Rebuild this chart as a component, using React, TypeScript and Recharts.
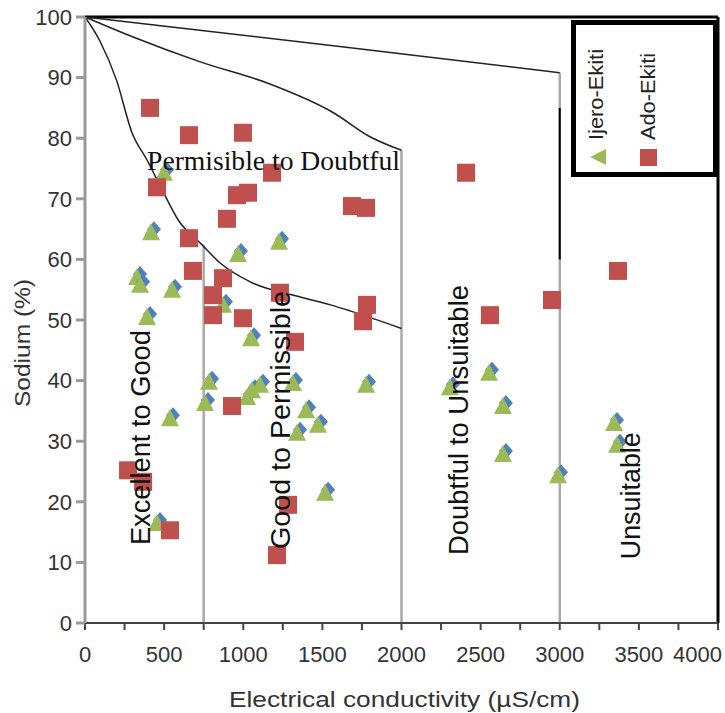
import React from 'react';
import { ComposedChart, Scatter, Line, XAxis, YAxis, ReferenceLine, ReferenceDot, Legend } from 'recharts';

// Ijero-Ekiti samples
const ijeroEC = [499, 417, 329, 348, 550, 392, 967, 1226, 872, 455, 537, 784, 758, 1049, 1024, 1055, 1106, 1314, 1397, 1340, 1472, 1517, 1776, 2553, 2306, 2641, 2641, 2989, 3343, 3362];
const ijeroNa = [74.3, 64.5, 57.1, 55.8, 55.0, 50.5, 60.9, 62.9, 52.5, 16.5, 33.8, 39.8, 36.3, 47.0, 37.3, 38.4, 39.3, 39.6, 35.1, 31.4, 32.7, 21.5, 39.3, 41.3, 38.9, 35.8, 27.9, 24.4, 33.0, 29.4];

// Ado-Ekiti samples
const adoEC = [411, 657, 998, 1182, 455, 960, 1030, 897, 657, 682, 872, 809, 809, 998, 1232, 1687, 1776, 2408, 1782, 1757, 2559, 2951, 3368, 929, 1327, 272, 367, 537, 1283, 1213];
const adoNa = [85.0, 80.5, 80.9, 74.3, 71.9, 70.6, 71.0, 66.7, 63.5, 58.1, 56.9, 54.1, 50.8, 50.3, 54.5, 68.8, 68.5, 74.3, 52.5, 49.8, 50.8, 53.3, 58.1, 35.8, 46.4, 25.2, 23.3, 15.3, 19.5, 11.2];

// Wilcox class boundaries
const lowerEC = [0, 95, 200, 297, 392, 487, 589, 740, 854, 1044, 1361, 1551, 1675, 2000];
const lowerNa = [100, 96.0, 89.5, 80.9, 76.4, 71.5, 66.5, 62.4, 59.4, 56.3, 53.8, 52.5, 51.5, 48.6];
const middleEC = [0, 304, 728, 1152, 1570, 1804, 2000];
const middleNa = [100, 96.7, 92.6, 89.1, 84.2, 80.2, 78];
const upperEC = [0, 1650, 3000];
const upperNa = [100, 95, 90.8];

const xTicks = [0, 250, 500, 750, 1000, 1250, 1500, 1750, 2000, 2250, 2500, 2750, 3000, 3250, 3500, 3750, 4000];
const yTicks = [0, 10, 20, 30, 40, 50, 60, 70, 80, 90, 100];

const zip = (xs: number[], ys: number[]) => xs.map((ec, i) => ({ ec, na: ys[i] }));

const ijero = zip(ijeroEC, ijeroNa);
const ado = zip(adoEC, adoNa);
const lower = zip(lowerEC, lowerNa);
const middle = zip(middleEC, middleNa);
const upper = zip(upperEC, upperNa);

const SANS = 'Liberation Sans, Arial, sans-serif';
const SERIF = 'Liberation Serif, Times New Roman, serif';
const GREEN = '#9bbb59';
const BLUE = '#4f81bd';
const RED = '#c0504d';

const Triangle = (p: any) => {
  const { cx, cy } = p;
  return (
    <g>
      <path d={`M${cx + 3},${cy - 11} L${cx + 10},${cy - 3} L${cx + 3},${cy + 5} L${cx - 4},${cy - 3} Z`} fill={BLUE} />
      <path d={`M${cx},${cy - 9} L${cx + 9},${cy + 8} L${cx - 9},${cy + 8} Z`} fill={GREEN} />
    </g>
  );
};

const Square = (p: any) => <rect x={p.cx - 9} y={p.cy - 9} width={18} height={18} fill={RED} />;

const XTick = (p: any) => {
  const v = p.payload.value;
  if (v % 500 !== 0) return null;
  const last = v === 4000;
  return (
    <text x={last ? p.x + 4 : p.x} y={p.y} dy="0.71em" textAnchor={last ? 'end' : 'middle'} fontSize={22} fill="#333" fontFamily={SANS}>
      {v}
    </text>
  );
};

const vText = (text: string, len: number) => (p: any) => (
  <text
    x={p.cx}
    y={p.cy}
    transform={`rotate(-90 ${p.cx} ${p.cy})`}
    textAnchor="middle"
    fontSize={27}
    fontFamily={SANS}
    fill="#111"
    textLength={len}
    lengthAdjust="spacingAndGlyphs"
  >
    {text}
  </text>
);

const hText = (text: string, len: number) => (p: any) => (
  <text x={p.cx} y={p.cy} fontSize={27} fontFamily={SERIF} fill="#111" textLength={len} lengthAdjust="spacingAndGlyphs">
    {text}
  </text>
);

const LegendBox = () => (
  <div style={{ width: 147, height: 157, boxSizing: 'border-box', border: '5px solid #000', background: '#fff' }}>
    <svg width={137} height={147} style={{ display: 'block' }}>
      <path d="M14,132 L30,124 L30,140 Z" fill={GREEN} />
      <text x={27} y={115} transform="rotate(-90 27 115)" fontSize={21} fontFamily={SANS} fill="#222" textLength={91} lengthAdjust="spacingAndGlyphs">
        Ijero-Ekiti
      </text>
      <rect x={64} y={124} width={17} height={17} fill={RED} />
      <text x={79} y={115} transform="rotate(-90 79 115)" fontSize={21} fontFamily={SANS} fill="#222" textLength={87} lengthAdjust="spacingAndGlyphs">
        Ado-Ekiti
      </text>
    </svg>
  </div>
);

const XTitle = (p: any) => {
  const vb = p.viewBox;
  return (
    <text x={vb.x + vb.width / 2 + 3} y={vb.y + 84} textAnchor="middle" fontSize={22} fontFamily={SANS} fill="#333" textLength={351} lengthAdjust="spacingAndGlyphs">
      Electrical conductivity (µS/cm)
    </text>
  );
};

const YTitle = () => (
  <text x={30} y={343} transform="rotate(-90 30 343)" textAnchor="middle" fontSize={22} fontFamily={SANS} fill="#333" textLength={128} lengthAdjust="spacingAndGlyphs">
    Sodium (%)
  </text>
);

export default function App() {
  return (
    <div style={{ position: 'absolute', left: 0, top: 0, background: '#fff' }}>
      <ComposedChart width={725} height={713} margin={{ top: 17, right: 7, bottom: 30, left: 20 }}>
        <XAxis
          type="number"
          dataKey="ec"
          domain={[0, 4000]}
          ticks={xTicks}
          interval={0}
          height={60}
          stroke="#444"
          strokeWidth={2}
          tickSize={7}
          tickMargin={16}
          tick={XTick}
          label={XTitle}
        />
        <YAxis
          type="number"
          dataKey="na"
          domain={[0, 100]}
          ticks={yTicks}
          interval={0}
          width={65}
          stroke="#999"
          strokeWidth={3}
          tickSize={9}
          tickMargin={4}
          tick={{ fontSize: 22, fill: '#333', fontFamily: SANS }}
          label={YTitle}
        />
        <ReferenceLine y={100} stroke="#000" strokeWidth={3} />
        <ReferenceLine x={4000} stroke="#000" strokeWidth={3} />
        <ReferenceLine segment={[{ x: 750, y: 0 }, { x: 750, y: 62.4 }]} stroke="#aaa" strokeWidth={2.5} />
        <ReferenceLine segment={[{ x: 2000, y: 0 }, { x: 2000, y: 78 }]} stroke="#aaa" strokeWidth={2.5} />
        <ReferenceLine segment={[{ x: 3000, y: 0 }, { x: 3000, y: 90.8 }]} stroke="#aaa" strokeWidth={2.5} />
        <ReferenceLine segment={[{ x: 3000, y: 60 }, { x: 3000, y: 85 }]} stroke="#000" strokeWidth={2} />
        <Line data={lower} dataKey="na" type="monotone" stroke="#222" strokeWidth={1.5} dot={false} isAnimationActive={false} legendType="none" />
        <Line data={middle} dataKey="na" type="monotone" stroke="#222" strokeWidth={1.5} dot={false} isAnimationActive={false} legendType="none" />
        <Line data={upper} dataKey="na" type="linear" stroke="#222" strokeWidth={1.5} dot={false} isAnimationActive={false} legendType="none" />
        <Scatter name="Ijero-Ekiti" data={ijero} shape={Triangle} isAnimationActive={false} />
        <Scatter name="Ado-Ekiti" data={ado} shape={Square} isAnimationActive={false} />
        <ReferenceDot x={392} y={74.75} r={0} ifOverflow="visible" shape={hText('Permisible to Doubtful', 253)} />
        <ReferenceDot x={411} y={30.6} r={0} ifOverflow="visible" shape={vText('Excellent to Good', 215)} />
        <ReferenceDot x={1295} y={33.5} r={0} ifOverflow="visible" shape={vText('Good to Permissible', 258)} />
        <ReferenceDot x={2420} y={33.5} r={0} ifOverflow="visible" shape={vText('Doubtful to Unsuitable', 270)} />
        <ReferenceDot x={3507} y={21.0} r={0} ifOverflow="visible" shape={vText('Unsuitable', 127)} />
        <Legend
          layout="vertical"
          align="center"
          verticalAlign="middle"
          content={LegendBox}
          wrapperStyle={{ left: 571, top: 20, width: 147, height: 157 }}
        />
      </ComposedChart>
    </div>
  );
}
